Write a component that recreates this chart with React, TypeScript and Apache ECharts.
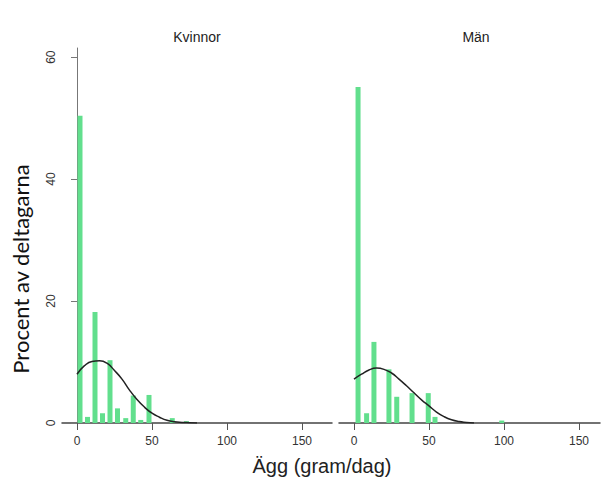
import React, { useEffect, useRef } from "react";
import * as echarts from "echarts";

const panelTitles = ["Kvinnor", "Män"];
const xTicks = [0, 50, 100, 150];
const yTicks = [0, 20, 40, 60];

const leftBinX = [2, 7, 12, 17, 22, 27, 32.5, 37.5, 42.5, 48, 63.5, 73];
const leftPct = [50.4, 1.0, 18.2, 1.6, 10.3, 2.4, 0.8, 4.5, 0.5, 4.6, 0.8, 0.3];
const rightBinX = [2.7, 8.4, 13.3, 23.3, 28.5, 38.7, 49.5, 54, 98.5];
const rightPct = [55.1, 1.6, 13.3, 8.8, 4.3, 4.9, 4.9, 1.0, 0.4];

const curveX = [0, 5, 10, 15, 20, 25, 30, 35, 40, 45, 50, 55, 60, 65, 70, 75, 80];
const leftCurve = [8.0, 9.4, 10.1, 10.2, 9.8, 8.6, 7.2, 5.4, 3.85, 2.6, 1.6, 0.95, 0.45, 0.2, 0.1, 0.05, 0];
const rightCurve = [7.2, 8.0, 8.7, 9.0, 8.8, 8.2, 7.2, 6.1, 4.95, 3.8, 2.8, 1.8, 1.05, 0.53, 0.24, 0.1, 0];

const yLabel = "Procent av deltagarna";
const xLabel = "Ägg (gram/dag)";

const BAR = "#62df8d";
const FONT = "Liberation Sans, Arial, sans-serif";

export default function App() {
  const ref = useRef<HTMLDivElement>(null);
  useEffect(() => {
    if (!ref.current) return;
    const chart = echarts.init(ref.current, undefined, { renderer: "svg" });
    const xAxisBase = (gridIndex: number, max: number) => ({
      type: "value",
      gridIndex,
      min: -10,
      max,
      axisLine: { show: true, lineStyle: { color: "#444", width: 1.5 } },
      axisTick: { show: true, length: 7, customValues: xTicks, lineStyle: { color: "#555" } },
      axisLabel: { customValues: xTicks, margin: 12, fontSize: 12, color: "#333", fontFamily: FONT },
      splitLine: { show: false },
    });
    chart.setOption({
      animation: false,
      backgroundColor: "#ffffff",
      grid: [
        { left: 62, top: 48, width: 270, height: 375 },
        { left: 339, top: 48, width: 261, height: 375 },
      ],
      xAxis: [xAxisBase(0, 170), xAxisBase(1, 164)],
      yAxis: [
        {
          type: "value",
          gridIndex: 0,
          min: 0,
          max: 61.5,
          axisLine: { show: true, lineStyle: { color: "#777", width: 1 } },
          axisTick: { show: true, length: 6, customValues: yTicks, lineStyle: { color: "#777" } },
          axisLabel: { customValues: yTicks, rotate: 90, margin: 5, fontSize: 12, color: "#333", fontFamily: FONT },
          splitLine: { show: false },
        },
        { type: "value", gridIndex: 1, min: 0, max: 61.5, show: false, splitLine: { show: false } },
      ],
      series: [
        {
          type: "bar",
          xAxisIndex: 0,
          yAxisIndex: 0,
          barWidth: 5,
          itemStyle: { color: BAR },
          data: leftBinX.map((x, i) => [x, leftPct[i]]),
        },
        {
          type: "bar",
          xAxisIndex: 1,
          yAxisIndex: 1,
          barWidth: 5,
          itemStyle: { color: BAR },
          data: rightBinX.map((x, i) => [x, rightPct[i]]),
        },
        {
          type: "line",
          xAxisIndex: 0,
          yAxisIndex: 0,
          smooth: true,
          showSymbol: false,
          lineStyle: { color: "#222", width: 1.5 },
          data: curveX.map((x, i) => [x, leftCurve[i]]),
        },
        {
          type: "line",
          xAxisIndex: 1,
          yAxisIndex: 1,
          smooth: true,
          showSymbol: false,
          lineStyle: { color: "#222", width: 1.5 },
          data: curveX.map((x, i) => [x, rightCurve[i]]),
        },
      ],
      graphic: [
        {
          type: "text",
          x: 197,
          y: 37,
          style: { text: panelTitles[0], fontSize: 14, fontFamily: FONT, fill: "#222", align: "center", verticalAlign: "middle" },
        },
        {
          type: "text",
          x: 476,
          y: 37,
          style: { text: panelTitles[1], fontSize: 14, fontFamily: FONT, fill: "#222", align: "center", verticalAlign: "middle" },
        },
        {
          type: "text",
          x: 20,
          y: 269,
          rotation: Math.PI / 2,
          style: { text: yLabel, fontSize: 22, fontFamily: "Lato, sans-serif", fill: "#111", align: "center", verticalAlign: "middle" },
        },
        {
          type: "text",
          x: 322,
          y: 466,
          style: { text: xLabel, fontSize: 20, fontFamily: FONT, fill: "#222", align: "center", verticalAlign: "middle" },
        },
      ],
    });
    return () => chart.dispose();
  }, []);
  return <div ref={ref} style={{ position: "fixed", left: 0, top: 0, width: 601, height: 478 }} />;
}
